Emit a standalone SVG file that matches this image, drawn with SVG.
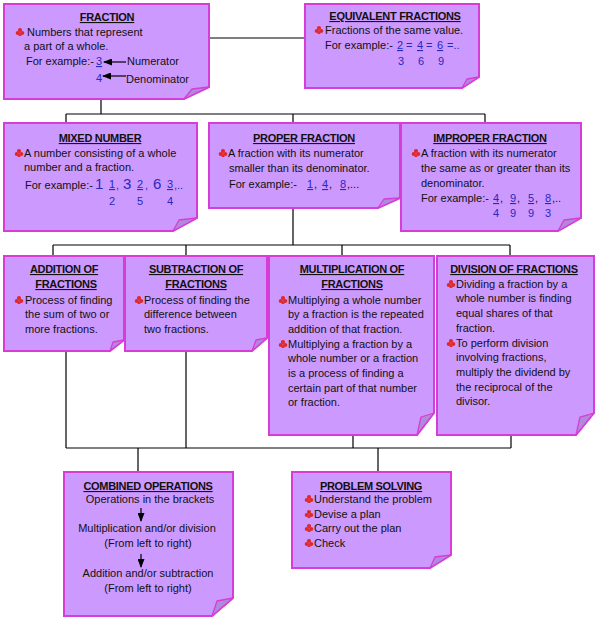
<svg xmlns="http://www.w3.org/2000/svg" xmlns:xlink="http://www.w3.org/1999/xlink" width="598" height="620" viewBox="0 0 598 620">
<style>
.box{fill:#CC99FF;stroke:#D83CD8;stroke-width:2}
.fold{fill:#B08AD8;stroke:#D83CD8;stroke-width:1.3;stroke-linejoin:round}
text{font-family:"Liberation Sans",Arial,sans-serif;font-size:11px;fill:#111}
.h{font-weight:bold;text-decoration:underline;text-anchor:middle;letter-spacing:-0.3px}
.b{fill:#2828C0}
.u{text-decoration:underline}
.c{text-anchor:middle}
.big{font-size:15px}
.con{stroke:#000;stroke-width:1.2;fill:none}
.arr{stroke:#000;stroke-width:1.2;fill:none;marker-end:url(#ah)}
.club{fill:#E0282A}
</style>
<defs>
<marker id="ah" markerWidth="9" markerHeight="7" refX="8" refY="3.5" orient="auto" markerUnits="userSpaceOnUse"><path d="M0,0 L9,3.5 L0,7 Z" fill="#000"/></marker>
<g id="club" class="club"><circle cx="0" cy="-2" r="2.1"/><circle cx="-2.2" cy="1" r="2.1"/><circle cx="2.2" cy="1" r="2.1"/><path d="M0,0 L-1.6,4 L1.6,4 Z"/></g>
</defs>

<g id="connectors">
<path class="con" d="M209,38 H305"/>
<path class="con" d="M101,99 V114 M66,114 H485 M66,114 V123 M293,114 V123 M485,114 V123"/>
<path class="con" d="M293,208 V245 M53,245 H510 M53,245 V256 M186,245 V256 M342,245 V256 M510,245 V256"/>
<path class="con" d="M66,351 V448 M186,351 V448 M353,435 V448 M511,435 V448 M66,448 H511 M138,448 V472 M378,448 V472"/>
</g>

<g id="fraction">
<path class="box" d="M4,4 H209 V87 L184,99 H4 Z"/>
<path class="fold" d="M184,99 L209,87 L192,89 Z"/>
<text class="h" x="107" y="21">FRACTION</text>
<use xlink:href="#club" x="20" y="32"/>
<text x="27" y="36">Numbers that represent</text>
<text x="24" y="50">a part of a whole.</text>
<text x="26" y="65">For example:-</text>
<text class="b u" x="96" y="65">3</text>
<text class="b" x="96" y="82">4</text>
<line class="arr" x1="126" y1="62" x2="104" y2="62"/>
<text x="127" y="65">Numerator</text>
<line class="arr" x1="126" y1="76" x2="103" y2="76"/>
<text x="126" y="83">Denominator</text>
</g>

<g id="equivalent">
<path class="box" d="M305,4 H479 V77 L462,88 H305 Z"/>
<path class="fold" d="M462,88 L479,77 L467,79 Z"/>
<text class="h" x="395" y="20">EQUIVALENT FRACTIONS</text>
<use xlink:href="#club" x="319" y="30"/>
<text x="325" y="34">Fractions of the same value.</text>
<text x="325" y="49">For example:-</text>
<text class="b u" x="397" y="49">2</text>
<text class="b" x="406" y="49">=</text>
<text class="b u" x="417" y="49">4</text>
<text class="b" x="426" y="49">=</text>
<text class="b u" x="437" y="49">6</text>
<text class="b" x="447" y="49">=..</text>
<text class="b" x="398" y="65">3</text>
<text class="b" x="418" y="65">6</text>
<text class="b" x="438" y="65">9</text>
</g>

<g id="mixed-number">
<path class="box" d="M4,123 H197 V218 L173,231 H4 Z"/>
<path class="fold" d="M173,231 L197,218 L179,220 Z"/>
<text class="h" x="100" y="142">MIXED NUMBER</text>
<use xlink:href="#club" x="19" y="153"/>
<text x="24" y="157">A number consisting of a whole</text>
<text x="24" y="171">number and a fraction.</text>
<text x="25" y="189">For example:-</text>
<text class="b big" x="95" y="189">1</text>
<text class="b u" x="109" y="188">1</text>
<text class="b" x="116" y="189">,</text>
<text class="b big" x="123" y="189">3</text>
<text class="b u" x="137" y="188">2</text>
<text class="b" x="145" y="189">,</text>
<text class="b big" x="153" y="189">6</text>
<text class="b u" x="167" y="188">3</text>
<text class="b" x="174" y="189">,..</text>
<text class="b" x="109" y="205">2</text>
<text class="b" x="137" y="205">5</text>
<text class="b" x="167" y="205">4</text>
</g>

<g id="proper-fraction">
<path class="box" d="M209,123 H400 V198 L378,208 H209 Z"/>
<path class="fold" d="M378,208 L400,198 L384,199 Z"/>
<text class="h" x="304" y="142">PROPER FRACTION</text>
<use xlink:href="#club" x="223" y="153"/>
<text x="228" y="157">A fraction with its numerator</text>
<text x="229" y="172">smaller than its denominator.</text>
<text x="229" y="188">For example:-</text>
<text class="b u" x="307" y="188">1</text>
<text x="314" y="188">,</text>
<text class="b u" x="322" y="188">4</text>
<text x="329" y="188">,</text>
<text class="b u" x="340" y="188">8</text>
<text x="347" y="188">,...</text>
</g>

<g id="improper-fraction">
<path class="box" d="M401,123 H581 V218 L558,231 H401 Z"/>
<path class="fold" d="M558,231 L581,218 L564,220 Z"/>
<text class="h" x="490" y="142">IMPROPER FRACTION</text>
<use xlink:href="#club" x="416" y="153"/>
<text x="421" y="157">A fraction with its numerator</text>
<text x="421" y="172">the same as or greater than its</text>
<text x="421" y="187">denominator.</text>
<text x="421" y="202">For example:-</text>
<text class="b u" x="493" y="202">4</text>
<text x="500" y="202">,</text>
<text class="b u" x="510" y="202">9</text>
<text x="517" y="202">,</text>
<text class="b u" x="528" y="202">5</text>
<text x="535" y="202">,</text>
<text class="b u" x="545" y="202">8</text>
<text x="552" y="202">,..</text>
<text class="b" x="493" y="217">4</text>
<text class="b" x="510" y="217">9</text>
<text class="b" x="528" y="217">9</text>
<text class="b" x="545" y="217">3</text>
</g>

<g id="addition">
<path class="box" d="M4,256 H124 V340 L110,351 H4 Z"/>
<path class="fold" d="M110,351 L124,340 L113,342 Z"/>
<text class="h" x="64" y="273">ADDITION OF</text>
<text class="h" x="66" y="288">FRACTIONS</text>
<use xlink:href="#club" x="19" y="300"/>
<text x="25" y="304">Process of finding</text>
<text x="25" y="318">the sum of two or</text>
<text x="25" y="333">more fractions.</text>
</g>

<g id="subtraction">
<path class="box" d="M125,256 H267 V338 L252,351 H125 Z"/>
<path class="fold" d="M252,351 L267,338 L256,340 Z"/>
<text class="h" x="196" y="273">SUBTRACTION OF</text>
<text class="h" x="196" y="288">FRACTIONS</text>
<use xlink:href="#club" x="139" y="300"/>
<text x="144" y="304">Process of finding the</text>
<text x="144" y="318">difference between</text>
<text x="144" y="333">two fractions.</text>
</g>

<g id="multiplication">
<path class="box" d="M269,256 H434 V413 L417,435 H269 Z"/>
<path class="fold" d="M417,435 L434,413 L421,417 Z"/>
<text class="h" x="352" y="273">MULTIPLICATION OF</text>
<text class="h" x="352" y="288">FRACTIONS</text>
<use xlink:href="#club" x="283" y="300"/>
<text x="288" y="304">Multiplying a whole number</text>
<text x="288" y="318">by a fraction is the repeated</text>
<text x="288" y="333">addition of that fraction.</text>
<use xlink:href="#club" x="283" y="344"/>
<text x="288" y="348">Multiplying a fraction by a</text>
<text x="288" y="362">whole number or a fraction</text>
<text x="288" y="377">is a process of finding a</text>
<text x="288" y="392">certain part of that number</text>
<text x="288" y="406">or fraction.</text>
</g>

<g id="division">
<path class="box" d="M437,256 H594 V413 L576,435 H437 Z"/>
<path class="fold" d="M576,435 L594,413 L580,417 Z"/>
<text class="h" x="514" y="273">DIVISION OF FRACTIONS</text>
<use xlink:href="#club" x="451" y="284"/>
<text x="456" y="288">Dividing a fraction by a</text>
<text x="456" y="302">whole number is finding</text>
<text x="456" y="317">equal shares of that</text>
<text x="456" y="332">fraction.</text>
<use xlink:href="#club" x="451" y="343"/>
<text x="456" y="347">To perform division</text>
<text x="456" y="361">involving fractions,</text>
<text x="456" y="376">multiply the dividend by</text>
<text x="456" y="391">the reciprocal of the</text>
<text x="456" y="405">divisor.</text>
</g>

<g id="combined-operations">
<path class="box" d="M64,472 H233 V598 L212,616 H64 Z"/>
<path class="fold" d="M212,616 L233,598 L217,601 Z"/>
<text class="h" x="148" y="490">COMBINED OPERATIONS</text>
<text class="c" x="150" y="503">Operations in the brackets</text>
<line class="arr" x1="141" y1="508" x2="141" y2="521"/>
<text class="c" x="147" y="532">Multiplication and/or division</text>
<text class="c" x="148" y="547">(From left to right)</text>
<line class="arr" x1="141" y1="554" x2="141" y2="567"/>
<text class="c" x="148" y="577">Addition and/or subtraction</text>
<text class="c" x="148" y="592">(From left to right)</text>
</g>

<g id="problem-solving">
<path class="box" d="M292,472 H451 V555 L430,568 H292 Z"/>
<path class="fold" d="M430,568 L451,555 L435,557 Z"/>
<text class="h" x="371" y="490">PROBLEM SOLVING</text>
<use xlink:href="#club" x="309" y="499"/>
<text x="314" y="503">Understand the problem</text>
<use xlink:href="#club" x="309" y="514"/>
<text x="314" y="518">Devise a plan</text>
<use xlink:href="#club" x="309" y="528"/>
<text x="314" y="532">Carry out the plan</text>
<use xlink:href="#club" x="309" y="543"/>
<text x="314" y="547">Check</text>
</g>
</svg>
